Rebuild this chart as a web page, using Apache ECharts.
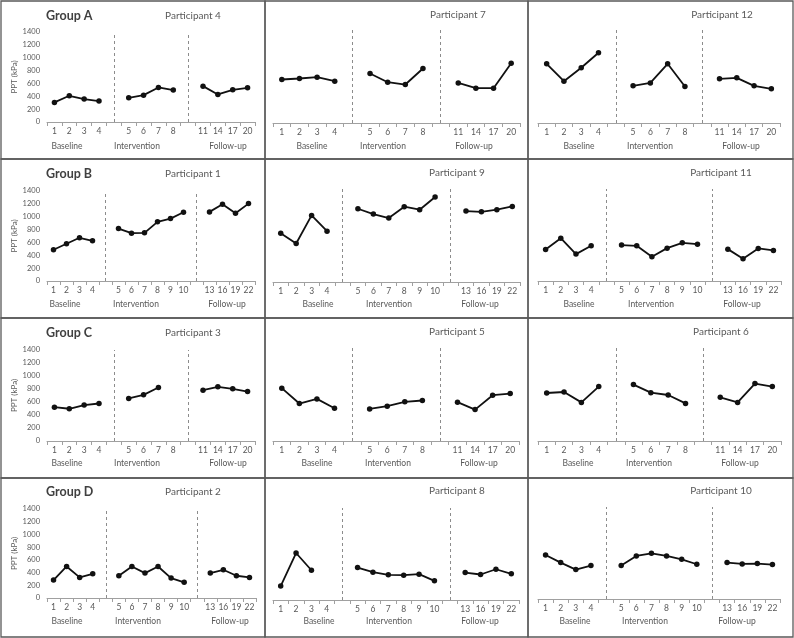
<!DOCTYPE html>
<html><head><meta charset="utf-8">
<script src="https://cdn.jsdelivr.net/npm/echarts@6/dist/echarts.min.js"></script>
<style>html,body{margin:0;padding:0;background:#fff}#c{width:794px;height:638px}</style>
</head><body><div id="c"></div>
<script>
// ---- data ----
const catsA = ['1','2','3','4',' ','5','6','7','8','  ','11','14','17','20'];
const catsB = ['1','2','3','4',' ','5','6','7','8','9','10','  ','13','16','19','22'];
const gapsA = [4, 9];
const gapsB = [4, 11];
const yTickMax = 1400, yTickStep = 200;
const groupNames = ['Group A','Group B','Group C','Group D'];
const phaseNames = ['Baseline','Intervention','Follow-up'];
const participantNames = [
  ['Participant 4','Participant 7','Participant 12'],
  ['Participant 1','Participant 9','Participant 11'],
  ['Participant 3','Participant 5','Participant 6'],
  ['Participant 2','Participant 8','Participant 10']
];
const p4  = [305,408,356,325,null,377,418,537,496,null,558,429,501,532];
const p7  = [655,670,690,630,null,745,614,579,821,null,604,524,524,901];
const p12 = [891,629,831,1058,null,559,604,891,549,null,665,680,559,514];
const p1  = [486,579,672,625,null,816,744,749,920,971,1069,null,1075,1193,1054,1204];
const p9  = [735,579,1002,765,null,1103,1022,962,1133,1088,1279,null,1068,1057,1088,1138];
const p11 = [480,652,409,536,null,546,536,369,500,581,561,null,485,339,495,465];
const p3  = [521,496,552,577,null,654,710,823,null,null,782,833,802,761];
const p5  = [787,558,627,488,null,478,518,583,603,null,578,468,682,707];
const p6  = [715,730,575,810,null,840,720,685,560,null,650,575,855,810];
const p2  = [282,496,324,381,null,350,496,392,496,313,246,null,392,444,350,324];
const p8  = [212,715,453,null,null,494,423,383,378,393,292,null,418,388,468,398];
const p10 = [670,554,448,509,null,509,655,695,655,604,529,null,554,534,539,524];

const rowData = [[p4,p7,p12],[p1,p9,p11],[p3,p5,p6],[p2,p8,p10]];
const rowCats = [catsA, catsB, catsA, catsB];
const rowGaps = [gapsA, gapsB, gapsA, gapsB];

// ---- layout ----
const grids = [
  [[47,32,208,90],[273,30,247,93],[538,30,242,93]],
  [[47,191,208,90],[273,189,247,93],[538,189,243,92]],
  [[47,350,208,91],[273,347,246,94],[538,347,243,94]],
  [[47,509,209,89],[273,508,246,92],[538,507,242,92]]
];
const titlePos = [
  [[193,16],[458,15],[722,15]],
  [[193,174],[457,173],[721,173]],
  [[193,333],[457,332],[721,332]],
  [[193,492],[457,491],[721,491]]
];
const groupY = [16,174,333,492];
const phaseY = [146,304,463.5,621];
const phaseX = [
  [[67,137,228],[312,383,474],[579,650,741]],
  [[65,136,227],[318,389,480],[579,651,742]],
  [[67,137,228],[317,388,479],[578,649,740]],
  [[67,138,230],[319,389,480],[575,645,737]]
];
const cellX = [1,265,528,793];
const cellY = [1,159,318,478,637];

const FONT = 'Lato';
const gridOpt = [], xAxes = [], yAxes = [], series = [], graphics = [];
let k = 0;
for (let r = 0; r < 4; r++) {
  for (let c = 0; c < 3; c++) {
    const g = grids[r][c];
    gridOpt.push({left:g[0], top:g[1], width:g[2], height:g[3], containLabel:false});
    xAxes.push({
      type:'category', gridIndex:k, data:rowCats[r], boundaryGap:true,
      axisLine:{show:true, lineStyle:{color:'#a0a0a0', width:1}},
      axisTick:{show:true, interval:0, length:4, lineStyle:{color:'#a0a0a0'}},
      axisLabel:{interval:0, margin:5, fontSize:8.5, color:'#595959', fontFamily:FONT},
      splitLine:{show:false}
    });
    yAxes.push({
      type:'value', gridIndex:k, min:0, max:yTickMax, interval:yTickStep,
      show: c === 0,
      name: c === 0 ? 'PPT (kPa)' : '', nameLocation:'middle', nameGap:21, nameRotate:90,
      nameTextStyle:{fontSize:8, color:'#595959', fontFamily:FONT},
      axisLine:{show:false}, axisTick:{show:false},
      axisLabel:{fontSize:7.5, color:'#595959', margin:7, fontFamily:FONT, formatter: v => String(v)},
      splitLine:{show:false}
    });
    series.push({
      type:'line', xAxisIndex:k, yAxisIndex:k, data:rowData[r][c],
      connectNulls:false, symbol:'circle', symbolSize:5.5,
      itemStyle:{color:'#111'}, lineStyle:{color:'#111', width:1.8},
      animation:false, silent:true,
      markLine:{
        symbol:'none', silent:true, animation:false,
        label:{show:false},
        lineStyle:{type:[3,3], color:'#8c8c8c', width:1},
        emphasis:{disabled:true},
        data: rowGaps[r].map(i => ({xAxis:i}))
      }
    });
    graphics.push({type:'text', x:titlePos[r][c][0], y:titlePos[r][c][1],
      style:{text:participantNames[r][c], fontSize:10, fill:'#595959', fontFamily:FONT,
        align:'center', verticalAlign:'middle'}});
    for (let p = 0; p < 3; p++) {
      graphics.push({type:'text', x:phaseX[r][c][p], y:phaseY[r],
        style:{text:phaseNames[p], fontSize:8.5, fill:'#595959', fontFamily:FONT,
          align:'center', verticalAlign:'middle'}});
    }
    graphics.push({type:'rect', shape:{x:cellX[c], y:cellY[r], width:cellX[c+1]-cellX[c], height:cellY[r+1]-cellY[r]},
      style:{fill:'none', stroke:'#5a5a5a', lineWidth:1.3}, silent:true});
    k++;
  }
  graphics.push({type:'text', x:46, y:groupY[r],
    style:{text:groupNames[r], fontSize:12.5, fontWeight:'bold', fill:'#404040', fontFamily:FONT,
      align:'left', verticalAlign:'middle'}});
}

const chart = echarts.init(document.getElementById('c'), null, {renderer:'canvas'});
chart.setOption({
  animation:false,
  backgroundColor:'#fff',
  grid:gridOpt, xAxis:xAxes, yAxis:yAxes, series:series,
  graphic:{elements:graphics}
});
</script></body></html>
